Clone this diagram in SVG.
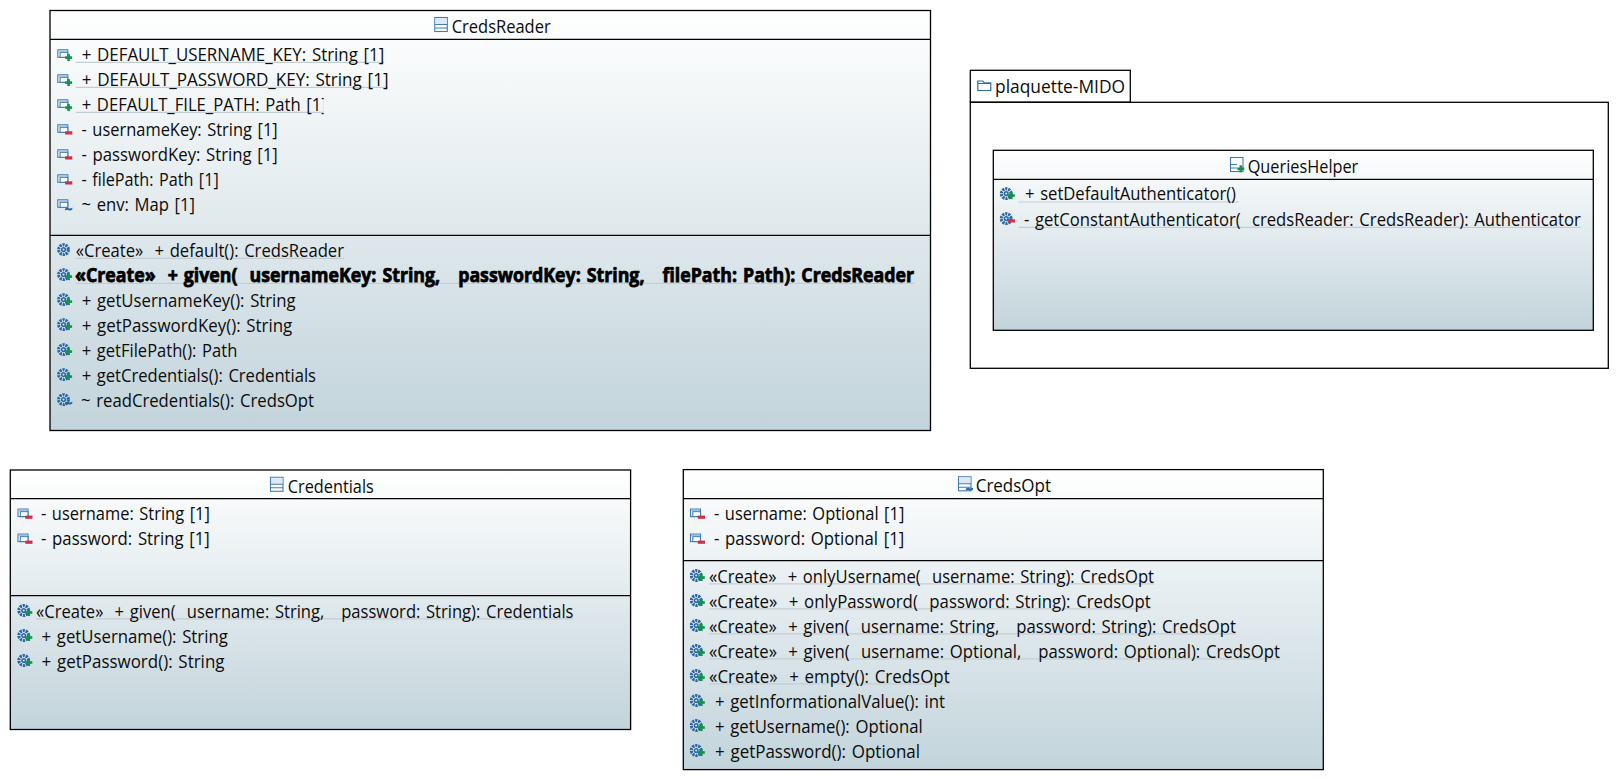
<svg xmlns="http://www.w3.org/2000/svg" width="1621" height="781" viewBox="0 0 1621 781">
<style>
text{font-family:"Open Sans","Noto Sans","Liberation Sans",sans-serif;font-size:19px;fill:#0c0c0c;white-space:pre;word-spacing:1.5px}
.b{fill:url(#grad);stroke:#000;stroke-width:1.3}
.p{fill:#fff;stroke:#000;stroke-width:1.3}
.d{fill:none;stroke:#000;stroke-width:1.3}
.u{fill:none;stroke:#c3ced2;stroke-width:1.2}
.bold{font-weight:700;stroke:#000;stroke-width:.75px;fill:#000}
.ic{fill:#fff;stroke:#3f7cb5;stroke-width:1.1}
</style>
<defs>
<linearGradient id="grad" x1="0" y1="0" x2="0" y2="1"><stop offset="0" stop-color="#ffffff"/><stop offset="1" stop-color="#c2d4db"/></linearGradient>
<clipPath id="c3"><rect x="70" y="95" width="253.6" height="25"/></clipPath>
<g id="plus"><rect x="10" y="4.800" width="2.600" height="7" fill="#14914f"/><rect x="7.800" y="7" width="7" height="2.600" fill="#14914f"/></g>
<g id="minus"><rect x="7.800" y="7" width="7.200" height="3.200" fill="#d32f3f"/></g>
<g id="pkg"><path d="M7.800 9.500q1.800-1.600 3.600-.6t3.600-.6v2q-1.800 1.600-3.600 .6t-3.600 .6z" fill="#1f65a8"/></g>
<g id="attr"><rect class="ic" x=".5" y=".5" width="10" height="7.500"/><rect class="ic" x="2.800" y="3" width="7.700" height="5"/><rect x="1" y="1" width="9" height="1.600" fill="#9cc0df"/></g>
<g id="gear"><circle cx="6.200" cy="6.300" r="4.800" fill="#fff" stroke="#2a66a3" stroke-width="3.200" stroke-dasharray="2.200 .8"/><circle cx="6.200" cy="6.300" r="2.600" fill="#2a66a3"/><circle cx="6.200" cy="6.300" r="1.100" fill="#cfe0ef"/></g>
<g id="cls"><rect class="ic" x=".5" y=".5" width="12.500" height="14"/><rect x="1" y="1" width="11.500" height="6" fill="#dce9f4"/><path d="M1 7.500h12M1 11h12" stroke="#3f7cb5" stroke-width="1.100" fill="none"/></g>
<g id="ap"><use href="#attr"/><use href="#plus"/></g>
<g id="am"><use href="#attr"/><use href="#minus"/></g>
<g id="at"><use href="#attr"/><use href="#pkg"/></g>
<g id="gp"><use href="#gear"/><use href="#plus"/></g>
<g id="gm"><use href="#gear"/><use href="#minus"/></g>
<g id="gt"><use href="#gear"/><use href="#pkg"/></g>
</defs>
<rect width="1621" height="781" fill="#fff"/>
<g id="connectors"/>

<g id="CredsReader">
<rect class="b" x="50" y="10.500" width="880.500" height="420"/>
<path class="d" d="M50 39.300H930.500M50 235.300H930.500"/>
<use href="#cls" x="434.300" y="17"/>
<text x="451.700" y="32.700" textLength="99" lengthAdjust="spacingAndGlyphs">CredsReader</text>
<path class="u" d="M75.700 62.300H384M75.700 87.300H388M75.700 112.300H323.500M75.700 258.300H344M75.700 283.300H914"/>
<use href="#ap" x="57.300" y="49.300"/><text x="81.700" y="61" textLength="302.600" lengthAdjust="spacingAndGlyphs">+ DEFAULT_USERNAME_KEY: String [1]</text>
<use href="#ap" x="57.300" y="74.300"/><text x="81.700" y="86" textLength="306.800" lengthAdjust="spacingAndGlyphs">+ DEFAULT_PASSWORD_KEY: String [1]</text>
<use href="#ap" x="57.300" y="99.300"/><text x="81.700" y="111" textLength="245" lengthAdjust="spacingAndGlyphs" clip-path="url(#c3)">+ DEFAULT_FILE_PATH: Path [1]</text>
<use href="#am" x="57.300" y="124.300"/><text x="81.500" y="136" textLength="196.200" lengthAdjust="spacingAndGlyphs">- usernameKey: String [1]</text>
<use href="#am" x="57.300" y="149.300"/><text x="81.500" y="161" textLength="196.200" lengthAdjust="spacingAndGlyphs">- passwordKey: String [1]</text>
<use href="#am" x="57.300" y="174.300"/><text x="81.500" y="186" textLength="137.200" lengthAdjust="spacingAndGlyphs">- filePath: Path [1]</text>
<use href="#at" x="57.300" y="199.300"/><text x="81.500" y="211" textLength="113.500" lengthAdjust="spacingAndGlyphs">~ env: Map [1]</text>
<use href="#gear" x="57.300" y="243.300"/><text x="75.700" y="256.700" textLength="268.300" lengthAdjust="spacingAndGlyphs">«Create»  + default(): CredsReader</text>
<use href="#gp" x="57.300" y="268.300"/><text class="bold" x="75" y="281.700" textLength="839" lengthAdjust="spacingAndGlyphs">«Create»  + given(  usernameKey: String,   passwordKey: String,   filePath: Path): CredsReader</text>
<use href="#gp" x="57.300" y="293.300"/><text x="81.700" y="306.700" textLength="214" lengthAdjust="spacingAndGlyphs">+ getUsernameKey(): String</text>
<use href="#gp" x="57.300" y="318.300"/><text x="81.700" y="331.700" textLength="210.600" lengthAdjust="spacingAndGlyphs">+ getPasswordKey(): String</text>
<use href="#gp" x="57.300" y="343.300"/><text x="81.700" y="356.700" textLength="155.600" lengthAdjust="spacingAndGlyphs">+ getFilePath(): Path</text>
<use href="#gp" x="57.300" y="368.300"/><text x="81.700" y="381.700" textLength="234.300" lengthAdjust="spacingAndGlyphs">+ getCredentials(): Credentials</text>
<use href="#gt" x="57.300" y="393.300"/><text x="81" y="406.700" textLength="233" lengthAdjust="spacingAndGlyphs">~ readCredentials(): CredsOpt</text>
</g>

<g id="plaquette-MIDO">
<rect class="p" x="970.300" y="102.300" width="638" height="266"/>
<rect class="p" x="970.300" y="70.300" width="160" height="31.700"/>
<path d="M977.800 90.500V81h5l1.500 1.800h6.500v7.700z" fill="#fff" stroke="#2f6da8" stroke-width="1.200"/>
<path d="M978 83.500h12.500" stroke="#2f6da8" stroke-width="1"/>
<text x="995" y="92.700" textLength="130" lengthAdjust="spacingAndGlyphs">plaquette-MIDO</text>
</g>

<g id="QueriesHelper">
<rect class="b" x="993.300" y="150.300" width="600" height="180"/>
<path class="d" d="M993.300 179.300H1593.300"/>
<rect class="ic" x="1230.500" y="157.500" width="12.500" height="14"/><path d="M1231 164.500h6M1231 168h6" stroke="#3f7cb5" stroke-width="1.100"/><use href="#plus" x="1229.500" y="160.500"/>
<text x="1247.700" y="172.700" textLength="110.600" lengthAdjust="spacingAndGlyphs">QueriesHelper</text>
<path class="u" d="M1018.300 202H1239M1018.300 227.300H1580.700"/>
<use href="#gp" x="1000" y="187.300"/><text x="1025" y="200" textLength="211" lengthAdjust="spacingAndGlyphs">+ setDefaultAuthenticator()</text>
<use href="#gm" x="1000" y="212.300"/><text x="1024" y="226" textLength="556.700" lengthAdjust="spacingAndGlyphs">- getConstantAuthenticator(  credsReader: CredsReader): Authenticator</text>
</g>

<g id="Credentials" transform="translate(0,-.7)">
<rect class="b" x="10.300" y="470.700" width="620.300" height="259.500"/>
<path class="d" d="M10.300 499.300H630.600M10.300 596.300H630.600"/>
<use href="#cls" x="270" y="477.500"/>
<text x="287.800" y="493.300" textLength="86" lengthAdjust="spacingAndGlyphs">Credentials</text>
<path class="u" d="M36 619.500H573.500"/>
<use href="#am" x="17.500" y="509.300"/><text x="41" y="521" textLength="168.800" lengthAdjust="spacingAndGlyphs">- username: String [1]</text>
<use href="#am" x="17.500" y="534.300"/><text x="41" y="546" textLength="168.800" lengthAdjust="spacingAndGlyphs">- password: String [1]</text>
<use href="#gp" x="17.500" y="604.900"/><text x="36" y="618.300" textLength="537.500" lengthAdjust="spacingAndGlyphs">«Create»  + given(  username: String,   password: String): Credentials</text>
<use href="#gp" x="17.500" y="629.900"/><text x="41.600" y="643.300" textLength="186.200" lengthAdjust="spacingAndGlyphs">+ getUsername(): String</text>
<use href="#gp" x="17.500" y="654.900"/><text x="41.600" y="668.300" textLength="182.900" lengthAdjust="spacingAndGlyphs">+ getPassword(): String</text>
</g>

<g id="CredsOpt" transform="translate(0,-.7)">
<rect class="b" x="683.300" y="470.300" width="640" height="300"/>
<path class="d" d="M683.300 499.300H1323.300M683.300 561.300H1323.300"/>
<use href="#cls" x="958" y="477"/><use href="#pkg" x="958" y="480"/>
<text x="975.700" y="492.700" textLength="75.300" lengthAdjust="spacingAndGlyphs">CredsOpt</text>
<path class="u" d="M709 584.500H1154M709 609.500H1150.700M709 634.500H1236M709 659.500H1280M709 684.500H950"/>
<use href="#am" x="690" y="509.300"/><text x="714" y="521" textLength="190.300" lengthAdjust="spacingAndGlyphs">- username: Optional [1]</text>
<use href="#am" x="690" y="534.300"/><text x="714" y="546" textLength="190.300" lengthAdjust="spacingAndGlyphs">- password: Optional [1]</text>
<use href="#gp" x="690" y="569.900"/><text x="709" y="583.300" textLength="445" lengthAdjust="spacingAndGlyphs">«Create»  + onlyUsername(  username: String): CredsOpt</text>
<use href="#gp" x="690" y="594.900"/><text x="709" y="608.300" textLength="441.700" lengthAdjust="spacingAndGlyphs">«Create»  + onlyPassword(  password: String): CredsOpt</text>
<use href="#gp" x="690" y="619.900"/><text x="709" y="633.300" textLength="527" lengthAdjust="spacingAndGlyphs">«Create»  + given(  username: String,   password: String): CredsOpt</text>
<use href="#gp" x="690" y="644.900"/><text x="709" y="658.300" textLength="571" lengthAdjust="spacingAndGlyphs">«Create»  + given(  username: Optional,   password: Optional): CredsOpt</text>
<use href="#gp" x="690" y="669.900"/><text x="709" y="683.300" textLength="240.700" lengthAdjust="spacingAndGlyphs">«Create»  + empty(): CredsOpt</text>
<use href="#gp" x="690" y="694.900"/><text x="715" y="708.300" textLength="230" lengthAdjust="spacingAndGlyphs">+ getInformationalValue(): int</text>
<use href="#gp" x="690" y="719.900"/><text x="715" y="733.300" textLength="207.700" lengthAdjust="spacingAndGlyphs">+ getUsername(): Optional</text>
<use href="#gp" x="690" y="744.900"/><text x="715" y="758.300" textLength="205" lengthAdjust="spacingAndGlyphs">+ getPassword(): Optional</text>
</g>
</svg>
